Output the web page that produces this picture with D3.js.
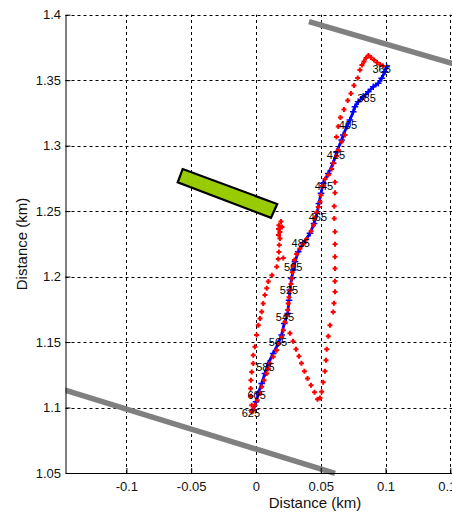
<!DOCTYPE html>
<html>
<head>
<meta charset="utf-8">
<script src="https://cdn.jsdelivr.net/npm/d3@7"></script>
<style>
  body { margin: 0; background: #fff; }
  svg { display: block; }
  text { font-family: "Liberation Sans", Arial, Helvetica, sans-serif; }
</style>
</head>
<body>
<svg id="chart" width="452" height="516"></svg>
<script>
// Axis ticks (km)
const xTicks = [-0.1, -0.05, 0, 0.05, 0.1, 0.15];
const yTicks = [1.05, 1.1, 1.15, 1.2, 1.25, 1.3, 1.35, 1.4];

// Smoothed vessel track (blue), km
const trackX = [0.1008,0.0995,0.0970,0.0944,0.0905,0.0867,0.0828,0.0789,0.0764,0.0751,0.0725,0.0700,0.0674,0.0661,0.0623,0.0596,0.0558,0.0519,0.0502,0.0486,0.0471,0.0448,0.0417,0.0365,0.0326,0.0301,0.0288,0.0275,0.0262,0.0255,0.0245,0.0218,0.0198,0.0172,0.0133,0.0095,0.0069,0.0044,0.0018,0.0000,-0.0021];
const trackY = [1.3603,1.3565,1.3514,1.3476,1.3450,1.3412,1.3374,1.3335,1.3297,1.3259,1.3196,1.3144,1.3081,1.3043,1.2953,1.2865,1.2788,1.2712,1.2636,1.2559,1.2483,1.2406,1.2330,1.2254,1.2189,1.2113,1.2050,1.1986,1.1897,1.1820,1.1719,1.1642,1.1553,1.1490,1.1413,1.1337,1.1260,1.1184,1.1108,1.1044,1.0980];

// Time stamps written along the track
const stampTimes = [365,385,405,425,445,465,485,505,525,545,565,585,605,625];
const stampX = [0.0970,0.0854,0.0710,0.0617,0.0525,0.0478,0.0346,0.0288,0.0255,0.0224,0.0170,0.0073,0.0005,-0.0039];
const stampY = [1.3583,1.3361,1.3157,1.2928,1.2691,1.2457,1.2254,1.2075,1.1897,1.1693,1.1497,1.1306,1.1095,1.0955];

// Raw position fixes (red), km
const fixX = [
  0.0980,0.0957,0.0934,0.0911,0.0888,0.0868,0.0849,0.0833,0.0818,0.0802,0.0785,0.0756,0.0733,0.0708,0.0679,0.0652,0.0635,0.0621,
  0.0687,0.0661,0.0635,0.0623,0.0596,0.0584,0.0558,0.0533,0.0513,0.0502,0.0494,0.0481,0.0468,0.0455,0.0444,0.0425,0.0391,0.0363,0.0340,0.0314,0.0296,0.0288,0.0280,0.0275,0.0270,0.0262,0.0255,0.0249,0.0245,0.0231,0.0224,0.0211,0.0198,0.0172,0.0160,0.0133,0.0108,0.0095,0.0083,0.0062,0.0044,0.0031,0.0010,-0.0008,-0.0021,-0.0033,0.0211,
  0.0262,0.0286,0.0309,0.0332,0.0351,0.0374,0.0398,0.0425,0.0452,0.0475,0.0494,0.0507,0.0519,0.0532,0.0540,0.0546,0.0558,0.0571,0.0596,0.0602,0.0610,0.0610,0.0610,0.0610,0.0610,0.0610,0.0604,0.0604,0.0610,0.0610,
  0.0193,0.0177,0.0201,0.0174,0.0185,0.0174,0.0185,0.0180,0.0177,0.0172,0.0160,0.0123,0.0095,0.0083,0.0069,0.0056,0.0044,0.0031,0.0018,0.0005,-0.0008,-0.0021,-0.0021,-0.0033,-0.0039,-0.0041,-0.0039,-0.0033
];
const fixY = [
  1.3608,1.3620,1.3635,1.3654,1.3673,1.3688,1.3669,1.3642,1.3616,1.3578,1.3516,1.3459,1.3399,1.3344,1.3276,1.3215,1.3146,1.3066,
  1.3081,1.3030,1.2966,1.2920,1.2865,1.2821,1.2775,1.2745,1.2691,1.2622,1.2571,1.2531,1.2489,1.2447,1.2393,1.2347,1.2286,1.2248,1.2214,1.2172,1.2126,1.2084,1.2034,1.1985,1.1943,1.1893,1.1843,1.1794,1.1744,1.1702,1.1652,1.1591,1.1538,1.1488,1.1438,1.1387,1.1337,1.1297,1.1259,1.1209,1.1158,1.1107,1.1056,1.1018,1.0984,1.0965,1.2141,
  1.1568,1.1507,1.1446,1.1392,1.1339,1.1278,1.1221,1.1171,1.1117,1.1064,1.1072,1.1120,1.1194,1.1278,1.1362,1.1446,1.1545,1.1629,1.1729,1.1797,1.1884,1.1965,1.2061,1.2151,1.2246,1.2342,1.2444,1.2538,1.2640,1.2720,
  1.2420,1.2393,1.2378,1.2363,1.2340,1.2317,1.2290,1.2241,1.2187,1.2134,1.2075,1.2011,1.1962,1.1910,1.1859,1.1795,1.1731,1.1680,1.1629,1.1553,1.1464,1.1400,1.1337,1.1272,1.1209,1.1146,1.1087,1.1018
];

// Channel edges (grey), km
const northEdgeX = [0.0409, 0.1600];
const northEdgeY = [1.3947, 1.3603];
const southEdgeX = [-0.1600, 0.0610];
const southEdgeY = [1.1172, 1.0497];

// Moored vessel outline (green), km
const hullX = [-0.0566, 0.0164, 0.0116, -0.0604];
const hullY = [1.2821, 1.2554, 1.2449, 1.2720];

const svg = d3.select("#chart");

const x = d3.scaleLinear().domain([-0.147, 0.2385]).range([65.5, 565]);
const y = d3.scaleLinear().domain([1.05, 1.4]).range([473, 14.7]);

const plotLeft = x.range()[0], plotRight = x.range()[1];
const plotBottom = y.range()[0], plotTop = y.range()[1];

// dashed grid
const grid = svg.append("g").attr("stroke", "#000").attr("stroke-width", 1)
  .attr("stroke-dasharray", "3,3").attr("fill", "none");
grid.selectAll("line.gx").data(xTicks).join("line").attr("class", "gx")
  .attr("x1", d => Math.round(x(d)) + 0.5).attr("x2", d => Math.round(x(d)) + 0.5)
  .attr("y1", plotBottom).attr("y2", plotTop);
grid.selectAll("line.gy").data(yTicks.filter(v => v > 1.05)).join("line").attr("class", "gy")
  .attr("y1", d => Math.round(y(d)) + 0.5).attr("y2", d => Math.round(y(d)) + 0.5)
  .attr("x1", plotLeft).attr("x2", plotRight);

// clip region: keep marks right of the y axis
svg.append("clipPath").attr("id", "plotclip")
  .append("rect").attr("x", plotLeft).attr("y", 0).attr("width", 600).attr("height", 516);

const plot = svg.append("g").attr("clip-path", "url(#plotclip)");

const lineOf = d3.line().x(d => x(d[0])).y(d => y(d[1]));

// channel edges
[[northEdgeX, northEdgeY], [southEdgeX, southEdgeY]].forEach(([xs, ys]) => {
  plot.append("path")
    .attr("d", lineOf(xs.map((v, i) => [v, ys[i]])))
    .attr("stroke", "#808080").attr("stroke-width", 5.5).attr("fill", "none");
});

// moored vessel
plot.append("path")
  .attr("d", lineOf(hullX.map((v, i) => [v, hullY[i]])) + "Z")
  .attr("fill", "#99cc00").attr("stroke", "#000").attr("stroke-width", 2.2)
  .attr("stroke-linejoin", "miter");

// blue track
const trackPts = trackX.map((v, i) => [v, trackY[i]]);
plot.append("path").attr("d", lineOf(trackPts))
  .attr("stroke", "#0000ff").attr("stroke-width", 2.8).attr("fill", "none");
const plus = r => `M${-r},0H${r}M0,${-r}V${r}`;
plot.append("g").selectAll("path").data(trackPts).join("path")
  .attr("transform", d => `translate(${x(d[0])},${y(d[1])})`)
  .attr("d", plus(3.3)).attr("stroke", "#0000ff").attr("stroke-width", 1.5).attr("fill", "none");

// red fixes
const fixPts = fixX.map((v, i) => [v, fixY[i]]);
plot.append("g").selectAll("path").data(fixPts).join("path")
  .attr("transform", d => `translate(${x(d[0])},${y(d[1])})`)
  .attr("d", plus(2.5)).attr("stroke", "#ff0000").attr("stroke-width", 2).attr("fill", "none");

// time stamps
svg.append("g").selectAll("text").data(stampTimes).join("text")
  .attr("x", (d, i) => x(stampX[i])).attr("y", (d, i) => y(stampY[i]))
  .attr("dy", "0.36em").attr("text-anchor", "middle")
  .attr("font-size", 11).attr("fill", "#000")
  .text(d => d);

// axes
const xAxis = d3.axisBottom(x).tickValues(xTicks).tickFormat(d => String(d))
  .tickSizeInner(-5).tickSizeOuter(0).tickPadding(9);
const yAxis = d3.axisLeft(y).tickValues(yTicks).tickFormat(d => String(d))
  .tickSizeInner(-5).tickSizeOuter(0).tickPadding(4.5);

const gx = svg.append("g").attr("transform", `translate(0,${plotBottom})`).call(xAxis);
const gy = svg.append("g").attr("transform", `translate(${plotLeft},0)`).call(yAxis);
[gx, gy].forEach(g => {
  g.selectAll("text").attr("font-size", 13).attr("fill", "#111")
    .attr("font-family", "'Liberation Sans', Arial, sans-serif");
  g.select(".domain").attr("stroke", "#000");
  g.selectAll(".tick line").attr("stroke", "#000");
});

// axis titles
svg.append("text").attr("x", 315).attr("y", 508).attr("text-anchor", "middle")
  .attr("font-size", 15).attr("fill", "#111").text("Distance (km)");
svg.append("text").attr("transform", "translate(27,244) rotate(-90)")
  .attr("text-anchor", "middle").attr("font-size", 15).attr("fill", "#111")
  .text("Distance (km)");
</script>
</body>
</html>
